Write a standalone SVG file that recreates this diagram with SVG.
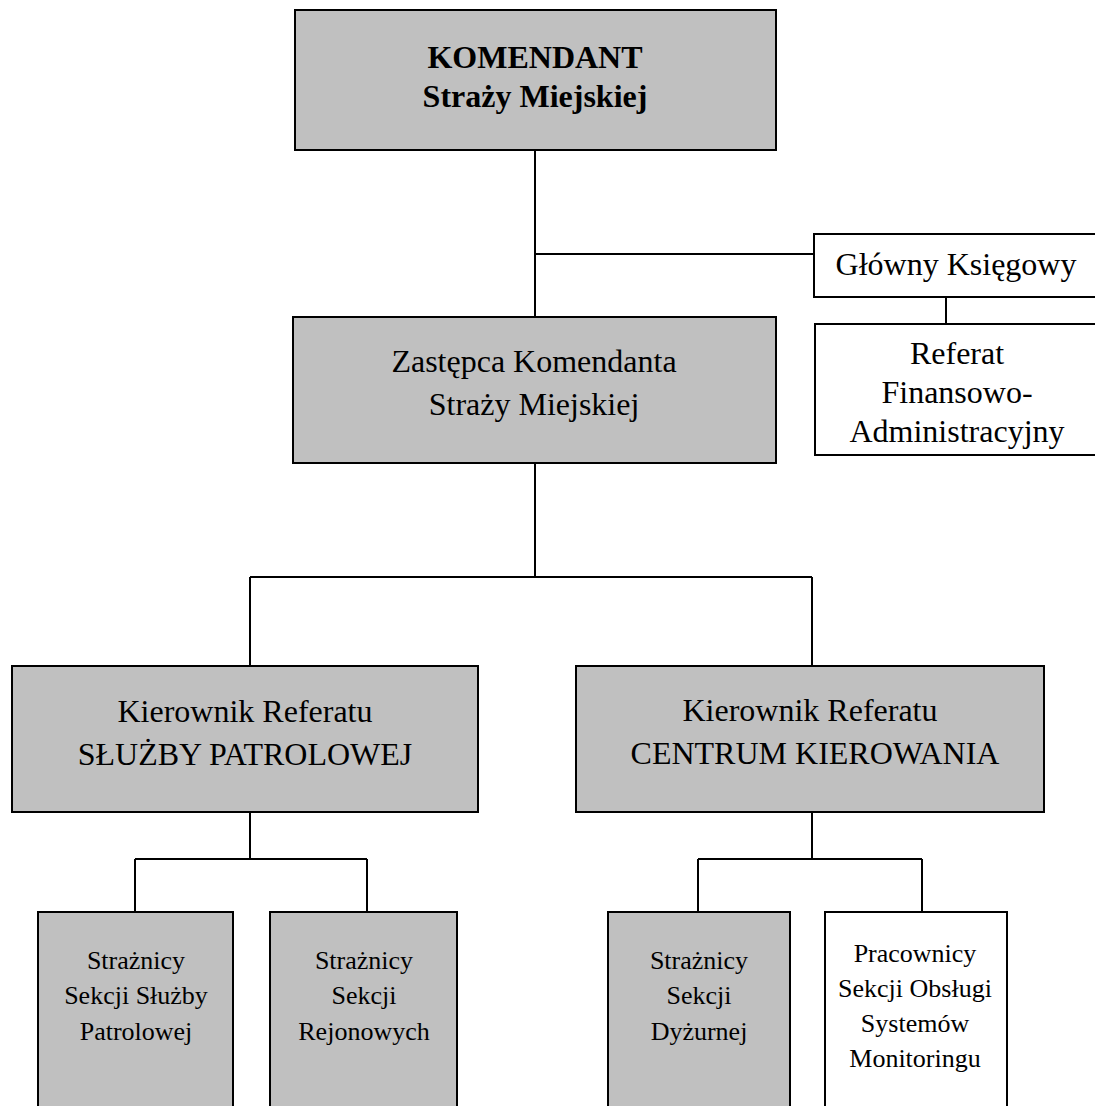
<svg xmlns="http://www.w3.org/2000/svg" width="1095" height="1106" viewBox="0 0 1095 1106">
<style>
  .box { stroke: #000; stroke-width: 2; }
  .grey { fill: #c0c0c0; }
  .white { fill: #fff; }
  .conn { stroke: #000; stroke-width: 2; fill: none; }
</style>
<rect width="1095" height="1106" fill="#fff"/>
<g id="connectors">
  <path class="conn" d="M535 150 V317 M535 254 H815 M946 297 V324"/>
  <path class="conn" d="M535 463 V577 M250 577 H812 M250 577 V666 M812 577 V666"/>
  <path class="conn" d="M250 812 V859 M135 859 H367 M135 859 V912 M367 859 V912"/>
  <path class="conn" d="M812 812 V859 M698 859 H922 M698 859 V912 M922 859 V912"/>
</g>
<g id="komendant">
  <rect class="box grey" x="295" y="10" width="481" height="140"/>
  <text x="535" y="68" font-family="Liberation Serif" font-size="32" font-weight="bold" text-anchor="middle">KOMENDANT</text>
  <text x="535" y="107" font-family="Liberation Serif" font-size="32" font-weight="bold" text-anchor="middle">Straży Miejskiej</text>
</g>
<g id="glowny-ksiegowy">
  <rect class="box white" x="814" y="234" width="290" height="63"/>
  <text x="956" y="275" font-family="Liberation Serif" font-size="32" text-anchor="middle">Główny Księgowy</text>
</g>
<g id="referat-fin">
  <rect class="box white" x="815" y="324" width="290" height="131"/>
  <text x="957" y="364" font-family="Liberation Serif" font-size="32" text-anchor="middle">Referat</text>
  <text x="957" y="403" font-family="Liberation Serif" font-size="32" text-anchor="middle">Finansowo-</text>
  <text x="957" y="442" font-family="Liberation Serif" font-size="32" text-anchor="middle">Administracyjny</text>
</g>
<g id="zastepca">
  <rect class="box grey" x="293" y="317" width="483" height="146"/>
  <text x="534" y="372" font-family="Liberation Serif" font-size="32" text-anchor="middle">Zastępca Komendanta</text>
  <text x="534" y="415" font-family="Liberation Serif" font-size="32" text-anchor="middle">Straży Miejskiej</text>
</g>
<g id="kier-patrol">
  <rect class="box grey" x="12" y="666" width="466" height="146"/>
  <text x="245" y="722" font-family="Liberation Serif" font-size="32" text-anchor="middle">Kierownik Referatu</text>
  <text x="245" y="765" font-family="Liberation Serif" font-size="32" text-anchor="middle">SŁUŻBY PATROLOWEJ</text>
</g>
<g id="kier-centrum">
  <rect class="box grey" x="576" y="666" width="468" height="146"/>
  <text x="810" y="721" font-family="Liberation Serif" font-size="32" text-anchor="middle">Kierownik Referatu</text>
  <text x="815" y="764" font-family="Liberation Serif" font-size="32" text-anchor="middle">CENTRUM KIEROWANIA</text>
</g>
<g id="straznicy-patrol">
  <rect class="box grey" x="38" y="912" width="195" height="210"/>
  <text x="136" y="969" font-family="Liberation Serif" font-size="26" text-anchor="middle">Strażnicy</text>
  <text x="136" y="1004" font-family="Liberation Serif" font-size="26" text-anchor="middle">Sekcji Służby</text>
  <text x="136" y="1040" font-family="Liberation Serif" font-size="26" text-anchor="middle">Patrolowej</text>
</g>
<g id="straznicy-rejon">
  <rect class="box grey" x="270" y="912" width="187" height="210"/>
  <text x="364" y="969" font-family="Liberation Serif" font-size="26" text-anchor="middle">Strażnicy</text>
  <text x="364" y="1004" font-family="Liberation Serif" font-size="26" text-anchor="middle">Sekcji</text>
  <text x="364" y="1040" font-family="Liberation Serif" font-size="26" text-anchor="middle">Rejonowych</text>
</g>
<g id="straznicy-dyzur">
  <rect class="box grey" x="608" y="912" width="182" height="210"/>
  <text x="699" y="969" font-family="Liberation Serif" font-size="26" text-anchor="middle">Strażnicy</text>
  <text x="699" y="1004" font-family="Liberation Serif" font-size="26" text-anchor="middle">Sekcji</text>
  <text x="699" y="1040" font-family="Liberation Serif" font-size="26" text-anchor="middle">Dyżurnej</text>
</g>
<g id="pracownicy-monitoring">
  <rect class="box white" x="825" y="912" width="182" height="210"/>
  <text x="915" y="962" font-family="Liberation Serif" font-size="26" text-anchor="middle">Pracownicy</text>
  <text x="915" y="997" font-family="Liberation Serif" font-size="26" text-anchor="middle">Sekcji Obsługi</text>
  <text x="915" y="1032" font-family="Liberation Serif" font-size="26" text-anchor="middle">Systemów</text>
  <text x="915" y="1067" font-family="Liberation Serif" font-size="26" text-anchor="middle">Monitoringu</text>
</g>
</svg>
